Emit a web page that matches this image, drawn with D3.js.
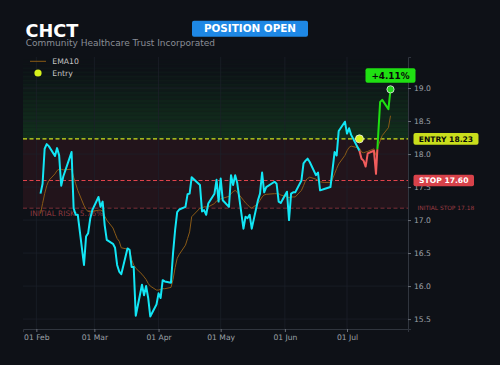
<!DOCTYPE html>
<html>
<head>
<meta charset="utf-8">
<script src="https://cdn.jsdelivr.net/npm/d3@7"></script>
<style>
body { margin: 0; background: #0e1117; }
svg { display: block; font-family: "DejaVu Sans", sans-serif; }
</style>
</head>
<body>
<div class="canvas"></div>
<script>
// trading days (2025)
const tradingDays = [
    "02-03","02-04","02-05","02-06","02-07","02-10","02-11","02-12","02-13","02-14",
    "02-18","02-19","02-20","02-21","02-24","02-25","02-26","02-27","02-28",
    "03-03","03-04","03-05","03-06","03-07","03-10","03-11","03-12","03-13","03-14",
    "03-17","03-18","03-19","03-20","03-21","03-24","03-25","03-26","03-27","03-28","03-31",
    "04-01","04-02","04-03","04-04","04-07","04-08","04-09","04-10","04-11",
    "04-14","04-15","04-16","04-17","04-21","04-22","04-23","04-24","04-25","04-28","04-29","04-30",
    "05-01","05-02","05-05","05-06","05-07","05-08","05-09","05-12","05-13","05-14","05-15","05-16",
    "05-19","05-20","05-21","05-22","05-23","05-27","05-28","05-29","05-30",
    "06-02","06-03","06-04","06-05","06-06","06-09","06-10","06-11","06-12","06-13",
    "06-16","06-17","06-18","06-20","06-23","06-24","06-25","06-26","06-27","06-30",
    "07-01","07-02","07-03","07-07","07-08","07-09","07-10","07-11","07-14","07-15","07-16","07-17","07-18","07-21","07-22"
]
const closes = [
    17.40,17.55,18.08,18.15,18.12,17.97,18.09,17.98,17.52,17.66,
    18.03,17.18,17.08,17.08,16.32,16.75,16.80,17.02,17.15,
    17.35,17.20,17.28,16.92,16.70,16.64,16.58,16.32,16.22,16.18,
    16.57,16.55,16.29,16.29,15.55,16.02,15.86,16.00,15.82,15.54,15.72,
    15.89,15.82,16.09,16.07,16.05,16.50,16.85,17.12,17.16,
    17.20,17.39,17.40,17.65,17.53,17.13,17.15,17.08,17.25,17.40,17.61,17.28,
    17.63,17.30,17.20,17.68,17.53,17.68,17.56,16.87,17.05,17.03,17.08,16.87,
    17.30,17.40,17.72,17.42,17.50,17.58,17.55,17.28,17.26,
    17.43,17.00,17.40,17.42,17.42,17.60,17.86,17.90,17.93,17.88,
    17.68,17.72,17.45,17.47,17.50,17.76,18.03,17.98,18.35,18.49,
    18.31,18.39,18.29,18.05,17.93,17.90,17.81,18.01,18.05,17.70,18.26,18.79,18.82,18.68,18.98
]
const ema10 = [
    17.10,17.25,17.40,17.52,17.60,17.70,17.75,17.77,17.77,17.76,
    17.77,17.65,17.55,17.45,17.22,17.16,17.13,17.13,17.13,
    17.15,17.15,17.14,17.06,17.00,16.88,16.80,16.72,16.68,16.58,
    16.56,16.55,16.40,16.32,16.27,16.18,16.14,16.10,16.04,16.00,15.94,
    15.94,15.95,15.96,15.96,15.98,16.10,16.28,16.42,16.48,
    16.62,16.72,16.82,17.05,17.18,17.18,17.20,17.20,17.20,17.25,17.29,17.30,
    17.32,17.33,17.36,17.40,17.43,17.45,17.42,17.30,17.26,17.23,17.20,17.18,
    17.25,17.30,17.35,17.38,17.39,17.40,17.40,17.40,17.38,
    17.35,17.34,17.35,17.35,17.35,17.45,17.52,17.60,17.63,17.65,
    17.62,17.60,17.58,17.57,17.57,17.62,17.70,17.78,17.85,17.98,
    18.05,18.10,18.12,18.09,18.03,18.02,18.03,18.04,18.08,17.98,18.12,18.20,18.28,18.40,18.58
]
const entryDay = "07-07"
const entryPrice = 18.23
const stopPrice = 17.60
const initialStop = 17.18
const ticker = "CHCT"
const companyName = "Community Healthcare Trust Incorporated"

const width = 500, height = 365
const margin = { top: 57, right: 92, bottom: 36, left: 23 }
const graphWidth = width - margin.left - margin.right
const graphHeight = height - margin.top - margin.bottom

const parse = d3.timeParse("%Y-%m-%d")
const dates = tradingDays.map(d => parse("2025-" + d))
const n = dates.length
const entryIdx = tradingDays.indexOf(entryDay)

const svg = d3.select(".canvas").append("svg")
    .attr("width", width)
    .attr("height", height)

svg.append("rect").attr("width", width).attr("height", height).attr("fill", "#0e1117")

const graph = svg.append("g")
    .attr("transform", `translate(${margin.left}, ${margin.top})`)

// scales
const pad = (dates[n - 1] - dates[0]) * 0.05
const x = d3.scaleTime()
    .domain([new Date(+dates[0] - pad), new Date(+dates[n - 1] + pad)])
    .range([0, graphWidth])
const y = d3.scaleLinear()
    .domain([15.35, 19.47])
    .range([graphHeight, 0])

const xTicks = x.ticks(d3.timeMonth.every(1))
const yTicks = y.ticks(8)

// zones
const bands = 40
const entryY = y(entryPrice)
d3.range(bands).forEach(i => {
    const h = entryY / bands
    graph.append("rect")
        .attr("x", 0).attr("width", graphWidth)
        .attr("y", entryY - (i + 1) * h).attr("height", h + 0.2)
        .attr("fill", "#28c83c")
        .attr("fill-opacity", Math.max(0, 0.17 * (1 - i / bands) - (i % 2 ? 0.025 : 0)))
})
graph.append("rect")
    .attr("x", 0).attr("width", graphWidth)
    .attr("y", entryY).attr("height", y(initialStop) - entryY)
    .attr("fill", "#c8323c").attr("fill-opacity", 0.11)

// grid
graph.append("g").selectAll("line").data(yTicks).enter().append("line")
    .attr("x1", 0).attr("x2", graphWidth)
    .attr("y1", d => y(d)).attr("y2", d => y(d))
    .attr("stroke", "#1c212b").attr("stroke-width", 0.7)
graph.append("g").selectAll("line").data(xTicks).enter().append("line")
    .attr("x1", d => x(d)).attr("x2", d => x(d))
    .attr("y1", 0).attr("y2", graphHeight)
    .attr("stroke", "#1c212b").attr("stroke-width", 0.7)

// axes
const xAxisGroup = graph.append("g").attr("transform", `translate(0, ${graphHeight})`)
const yAxisGroup = graph.append("g").attr("transform", `translate(${graphWidth}, 0)`)
xAxisGroup.call(d3.axisBottom(x).ticks(d3.timeMonth.every(1)).tickFormat(d3.timeFormat("%d %b")).tickSize(3).tickPadding(3))
yAxisGroup.call(d3.axisRight(y).ticks(8).tickFormat(d3.format(".1f")).tickSize(3).tickPadding(3))
;[xAxisGroup, yAxisGroup].forEach(g => {
    g.select(".domain").attr("stroke", "#30353e")
    g.selectAll(".tick line").attr("stroke", "#6b7079")
    g.selectAll("text").attr("fill", "#9da1a8").attr("font-size", 7.6).attr("font-family", "DejaVu Sans")
})

// level lines
const levels = [
    { v: entryPrice, color: "#cfe21c", dash: "4,2.5", w: 1.1 },
    { v: stopPrice, color: "#e0434b", dash: "4,2.5", w: 1.1 },
    { v: initialStop, color: "#7c3037", dash: "4,2.5", w: 1 }
]
graph.selectAll(".level").data(levels).enter().append("line")
    .attr("x1", 0).attr("x2", graphWidth)
    .attr("y1", d => y(d.v)).attr("y2", d => y(d.v))
    .attr("stroke", d => d.color).attr("stroke-width", d => d.w)
    .attr("stroke-dasharray", d => d.dash)

const risk = (entryPrice - initialStop) / entryPrice * 100
graph.append("text")
    .attr("x", 7).attr("y", y(initialStop) + 8.2)
    .attr("fill", "#8d383f").attr("font-size", 7.4)
    .text(`INITIAL RISK: ${risk.toFixed(2)}%`)

// EMA
const line = d3.line().x(d => x(d[0])).y(d => y(d[1]))
graph.append("path")
    .attr("d", line(dates.map((d, i) => [d, ema10[i]])))
    .attr("fill", "none").attr("stroke", "#8a5a16").attr("stroke-width", 1)

// price before entry
graph.append("path")
    .attr("d", line(dates.slice(0, entryIdx + 1).map((d, i) => [d, closes[i]])))
    .attr("fill", "none").attr("stroke", "#12e6f5").attr("stroke-width", 2)
    .attr("stroke-linejoin", "round")

// price after entry, green above EMA, red below
const runs = []
let cur = null
for (let i = entryIdx; i < n; i++) {
    const p = [dates[i], closes[i]]
    const up = closes[i] >= ema10[i]
    if (!cur) { cur = { up, pts: [p] }; runs.push(cur) }
    else if (cur.up === up) cur.pts.push(p)
    else {
        const da = closes[i - 1] - ema10[i - 1], db = closes[i] - ema10[i]
        const t = da / (da - db)
        const c = [new Date(+dates[i - 1] + t * (dates[i] - dates[i - 1])), closes[i - 1] + t * (closes[i] - closes[i - 1])]
        cur.pts.push(c)
        cur = { up, pts: [c, p] }
        runs.push(cur)
    }
}
graph.selectAll(".run").data(runs).enter().append("path")
    .attr("d", d => line(d.pts))
    .attr("fill", "none").attr("stroke", d => d.up ? "#1fe012" : "#f25c5c").attr("stroke-width", 2)
    .attr("stroke-linejoin", "round")

// markers
graph.append("circle")
    .attr("cx", x(dates[entryIdx])).attr("cy", y(entryPrice)).attr("r", 4)
    .attr("fill", "#d7f21c").attr("stroke", "#eeeeee").attr("stroke-width", 0.8)
graph.append("circle")
    .attr("cx", x(dates[n - 1])).attr("cy", y(closes[n - 1])).attr("r", 3.6)
    .attr("fill", "#22d61c").attr("stroke", "#eeeeee").attr("stroke-width", 0.8)

// pnl badge
const pnl = (closes[n - 1] / entryPrice - 1) * 100
const px = x(dates[n - 1]), py = y(closes[n - 1])
graph.append("rect")
    .attr("x", px - 25).attr("y", py - 21).attr("width", 50).attr("height", 14.5)
    .attr("rx", 2).attr("fill", "#1fe012")
graph.append("text")
    .attr("x", px).attr("y", py - 10.6).attr("text-anchor", "middle")
    .attr("font-size", 8.9).attr("font-weight", "bold").attr("fill", "#0a0a0a")
    .text(`${pnl >= 0 ? "+" : ""}${pnl.toFixed(2)}%`)

// right labels
const tags = [
    { v: entryPrice, label: `ENTRY ${entryPrice.toFixed(2)}`, w: 65, fill: "#c9de1c", color: "#0a0a0a" },
    { v: stopPrice, label: `STOP ${stopPrice.toFixed(2)}`, w: 60.5, fill: "#d8424a", color: "#ffffff" }
]
tags.forEach(t => {
    graph.append("rect")
        .attr("x", graphWidth + 5.5).attr("y", y(t.v) - 5.8).attr("width", t.w).attr("height", 11.6)
        .attr("rx", 2).attr("fill", t.fill)
    graph.append("text")
        .attr("x", graphWidth + 5.5 + t.w / 2).attr("y", y(t.v) + 2.8).attr("text-anchor", "middle")
        .attr("font-size", 7.6).attr("font-weight", "bold").attr("fill", t.color)
        .text(t.label)
})
graph.append("text")
    .attr("x", graphWidth + 9.5).attr("y", y(initialStop) + 2.2)
    .attr("font-size", 5.9).attr("fill", "#9b3b42")
    .text(`INITIAL STOP ${initialStop.toFixed(2)}`)

// legend
const legend = svg.append("g")
legend.append("line").attr("x1", 30).attr("x2", 46).attr("y1", 61.3).attr("y2", 61.3)
    .attr("stroke", "#8a5a16").attr("stroke-width", 1)
legend.append("circle").attr("cx", 38).attr("cy", 73).attr("r", 3.6).attr("fill", "#d7f21c")
legend.append("text").attr("x", 52.3).attr("y", 64.3).attr("font-size", 7.7).attr("fill", "#c4c4c4").text("EMA10")
legend.append("text").attr("x", 52.3).attr("y", 76.3).attr("font-size", 7.7).attr("fill", "#c4c4c4").text("Entry")

// header
svg.append("text").attr("x", 25.5).attr("y", 36.7)
    .attr("font-size", 17.7).attr("font-weight", "bold").attr("fill", "#ffffff").text(ticker)
svg.append("text").attr("x", 25.7).attr("y", 46)
    .attr("font-size", 9).attr("fill", "#8a8e96").text(companyName)
svg.append("rect").attr("x", 192).attr("y", 20.7).attr("width", 116).attr("height", 16)
    .attr("rx", 2).attr("fill", "#1e88e5")
svg.append("text").attr("x", 250).attr("y", 32.4).attr("text-anchor", "middle")
    .attr("font-size", 10.4).attr("font-weight", "bold").attr("fill", "#ffffff").text("POSITION OPEN")
</script>
</body>
</html>
